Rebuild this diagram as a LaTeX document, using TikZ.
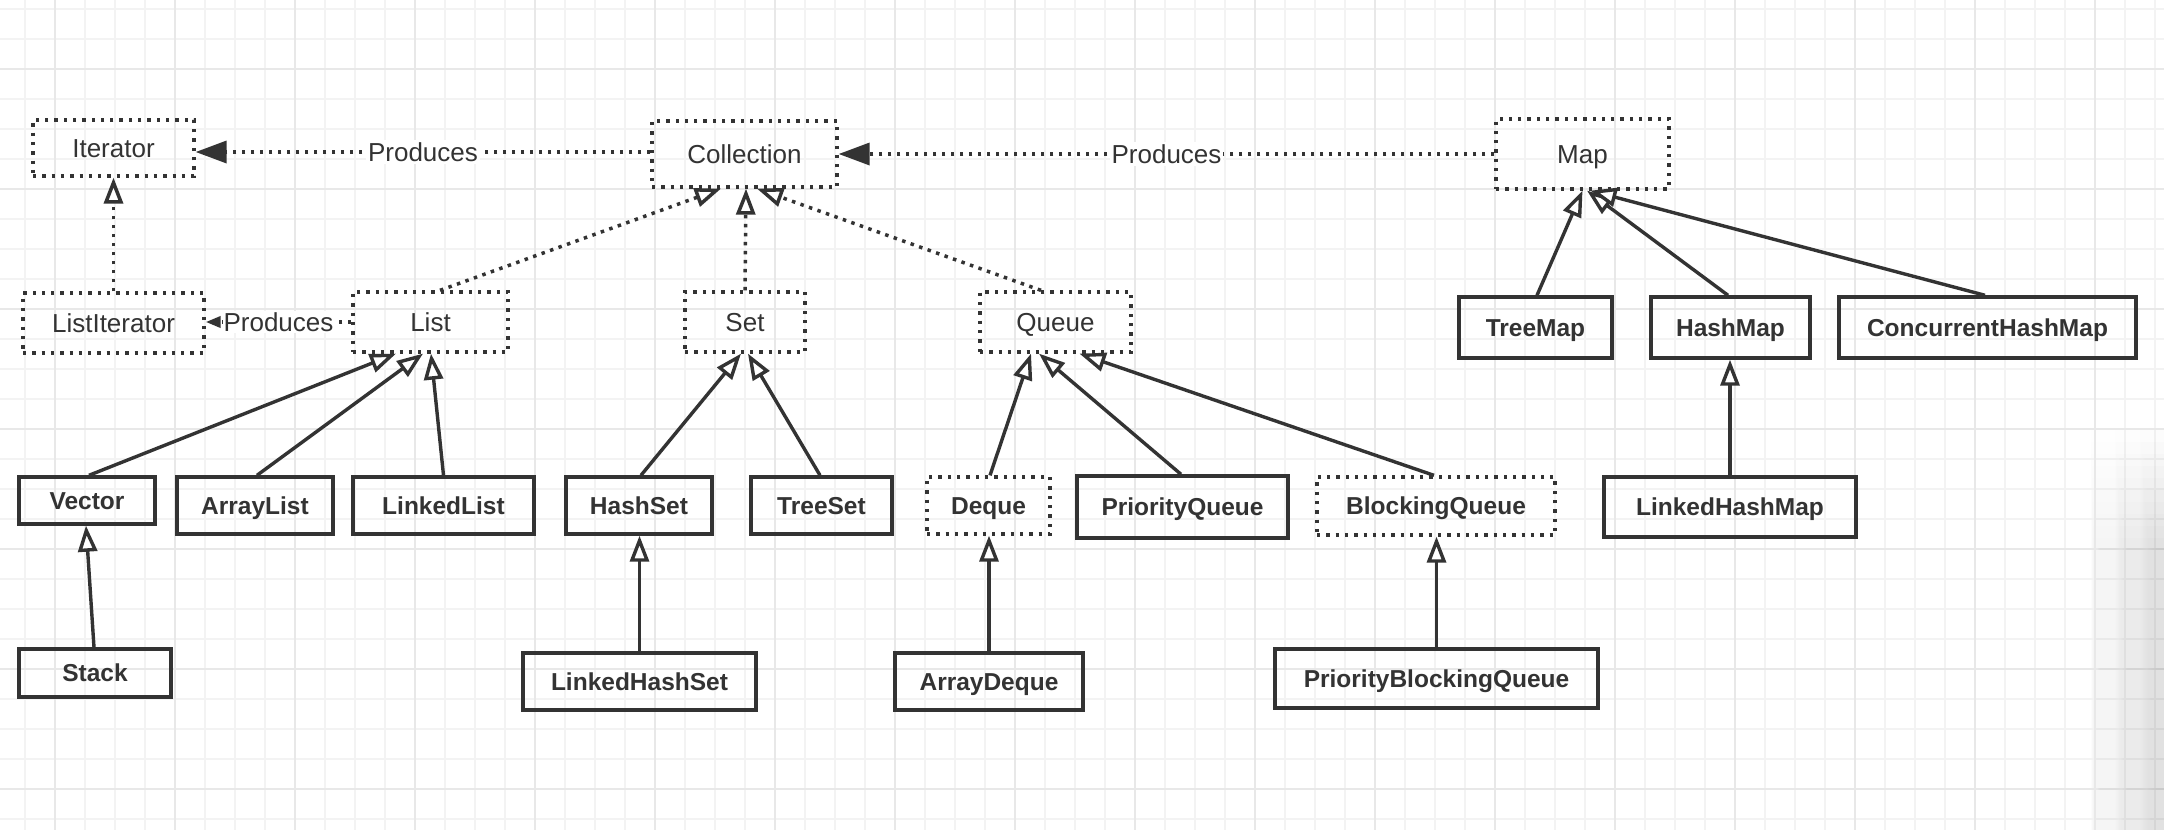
\documentclass[tikz,border=0pt]{standalone}
\usepackage{fontspec}
\setmainfont{Liberation Sans}
\usetikzlibrary{arrows.meta,calc}
\definecolor{lc}{HTML}{333333}
\definecolor{gmin}{HTML}{F3F3F3}
\definecolor{gmaj}{HTML}{E8E8E8}
\tikzset{
 box/.style={draw=lc, line width=3.4pt, inner sep=0pt, text=lc, text height=17.5pt, text depth=0pt, font=\fontsize{24.5}{30}\selectfont\bfseries},
 iface/.style={draw=lc, line width=3.3pt, dash pattern=on 3.3pt off 6pt, inner sep=0pt, text=lc, text height=18.5pt, text depth=0pt, font=\fontsize{26}{30}\selectfont},
 ifaceb/.style={iface, text height=17.5pt, font=\fontsize{24.5}{30}\selectfont\bfseries},
 dotline/.style={draw=lc, line width=3.5pt, dash pattern=on 3.5pt off 5.5pt},
 solidline/.style={draw=lc, line width=3.4pt},
 inh/.style={-{Triangle[open, fill=white, length=26pt, width=19pt]}},
 prod/.style={-{Triangle[length=31pt, width=22pt]}},
 prodsm/.style={-{Triangle[length=15pt, width=11pt]}},
 lbl/.style={fill=white, inner sep=2pt, text=lc, font=\fontsize{26}{30}\selectfont},
}
\begin{document}
\begin{tikzpicture}[x=1pt,y=-1pt]
\useasboundingbox (0,0) rectangle (2164,830);
% background grid
\begin{scope}
\clip (0,0) rectangle (2164,830);
\fill[white] (0,0) rectangle (2164,830);
\foreach \i in {0,...,72} \draw[gmin, line width=2pt] ({25+30*\i},0) -- ({25+30*\i},830);
\foreach \i in {0,...,27} \draw[gmin, line width=2pt] (0,{9+30*\i}) -- (2164,{9+30*\i});
\foreach \i in {0,...,18} \draw[gmaj, line width=2.5pt] ({55+120*\i},0) -- ({55+120*\i},830);
\foreach \i in {0,...,6} \draw[gmaj, line width=2.5pt] (0,{69+120*\i}) -- (2164,{69+120*\i});
\foreach \k in {0,...,9}
  \shade[left color=white, right color=black, opacity=0.013] (2090,{430+12*\k}) rectangle (2164,830);
\end{scope}

% nodes
\node[iface, minimum width=161pt, minimum height=56pt] (Iterator) at (113.5,148) {Iterator};
\node[iface, minimum width=185pt, minimum height=66pt] (Collection) at (744.5,154) {Collection};
\node[iface, minimum width=173pt, minimum height=70pt] (Map) at (1582.5,154) {Map};
\node[iface, minimum width=181pt, minimum height=60pt] (ListIterator) at (113.5,323) {ListIterator};
\node[iface, minimum width=155pt, minimum height=60pt] (List) at (430.5,322) {List};
\node[iface, minimum width=120pt, minimum height=60pt] (Set) at (745,322) {Set};
\node[iface, minimum width=151pt, minimum height=60pt] (Queue) at (1055.5,322) {Queue};
\node[box, minimum width=153pt, minimum height=61pt] (TreeMap) at (1535.5,327.5) {TreeMap};
\node[box, minimum width=159pt, minimum height=61pt] (HashMap) at (1730.5,327.5) {HashMap};
\node[box, minimum width=297pt, minimum height=61pt] (CHM) at (1987.5,327.5) {ConcurrentHashMap};
\node[box, minimum width=136pt, minimum height=47pt] (Vector) at (87,500.5) {Vector};
\node[box, minimum width=156pt, minimum height=57pt] (ArrayList) at (255,505.5) {ArrayList};
\node[box, minimum width=181pt, minimum height=57pt] (LinkedList) at (443.5,505.5) {LinkedList};
\node[box, minimum width=146pt, minimum height=57pt] (HashSet) at (639,505.5) {HashSet};
\node[box, minimum width=141pt, minimum height=57pt] (TreeSet) at (821.5,505.5) {TreeSet};
\node[ifaceb, minimum width=123pt, minimum height=57pt] (Deque) at (988.5,505.5) {Deque};
\node[box, minimum width=211pt, minimum height=62pt] (PriorityQueue) at (1182.5,507) {PriorityQueue};
\node[ifaceb, minimum width=238pt, minimum height=58pt] (BlockingQueue) at (1436,506) {BlockingQueue};
\node[box, minimum width=252pt, minimum height=60pt] (LinkedHashMap) at (1730,507) {LinkedHashMap};
\node[box, minimum width=152pt, minimum height=48pt] (Stack) at (95,673) {Stack};
\node[box, minimum width=233pt, minimum height=57pt] (LinkedHashSet) at (639.5,681.5) {LinkedHashSet};
\node[box, minimum width=188pt, minimum height=57pt] (ArrayDeque) at (989,681.5) {ArrayDeque};
\node[box, minimum width=323pt, minimum height=59pt] (PBQ) at (1436.5,678.5) {PriorityBlockingQueue};

% produces
\draw[dotline, prod] ([yshift=2pt]Collection.west) -- ([yshift=2pt]Collection.west -| Iterator.east) node[lbl, midway] {Produces};
\draw[dotline, prod] (Map.west) -- (Map.west -| Collection.east) node[lbl, pos=0.5] {Produces};
\draw[dotline, prodsm] (List.west) -- (List.west -| ListIterator.east) node[lbl, midway, inner sep=1pt] {Produces};

% interface inheritance (dotted)
\draw[dotline, inh] (ListIterator.north) -- (Iterator.south);
\draw[dotline, inh] ([xshift=9.5pt]List.north) -- ([xshift=-23.5pt]Collection.south);
\draw[dotline, inh] (Set.north) -- ([xshift=1.5pt]Collection.south);
\draw[dotline, inh] ([xshift=-14.5pt]Queue.north) -- ([xshift=12.5pt]Collection.south);

% solid inheritance
\draw[solidline, inh] ([xshift=2pt]Vector.north) -- ([xshift=-34.5pt]List.south);
\draw[solidline, inh] ([xshift=2pt]ArrayList.north) -- ([xshift=-7.5pt]List.south);
\draw[solidline, inh] (LinkedList.north) -- ([xshift=0.5pt]List.south);
\draw[solidline, inh] ([xshift=-1pt]Stack.north) -- ([xshift=-1pt]Vector.south);
\draw[solidline, inh] ([xshift=2pt]HashSet.north) -- ([xshift=-4pt]Set.south);
\draw[solidline, inh] ([xshift=-1.5pt]TreeSet.north) -- ([xshift=3pt]Set.south);
\draw[solidline, inh] (LinkedHashSet.north) -- (LinkedHashSet.north |- HashSet.south);
\draw[solidline, inh] ([xshift=1.5pt]Deque.north) -- ([xshift=-24.5pt]Queue.south);
\draw[solidline, inh] ([xshift=-1.5pt]PriorityQueue.north) -- ([xshift=-16.5pt]Queue.south);
\draw[solidline, inh] ([xshift=-2pt]BlockingQueue.north) -- ([xshift=24pt]Queue.south);
\draw[solidline, inh] (ArrayDeque.north) -- (ArrayDeque.north |- Deque.south);
\draw[solidline, inh] (PBQ.north) -- (PBQ.north |- BlockingQueue.south);
\draw[solidline, inh] ([xshift=1.5pt]TreeMap.north) -- (Map.south);
\draw[solidline, inh] ([xshift=-2.5pt]HashMap.north) -- ([xshift=4.5pt]Map.south);
\draw[solidline, inh] ([xshift=-2.5pt]CHM.north) -- ([xshift=8pt]Map.south);
\draw[solidline, inh] (LinkedHashMap.north) -- (LinkedHashMap.north |- HashMap.south);
\end{tikzpicture}
\end{document}
